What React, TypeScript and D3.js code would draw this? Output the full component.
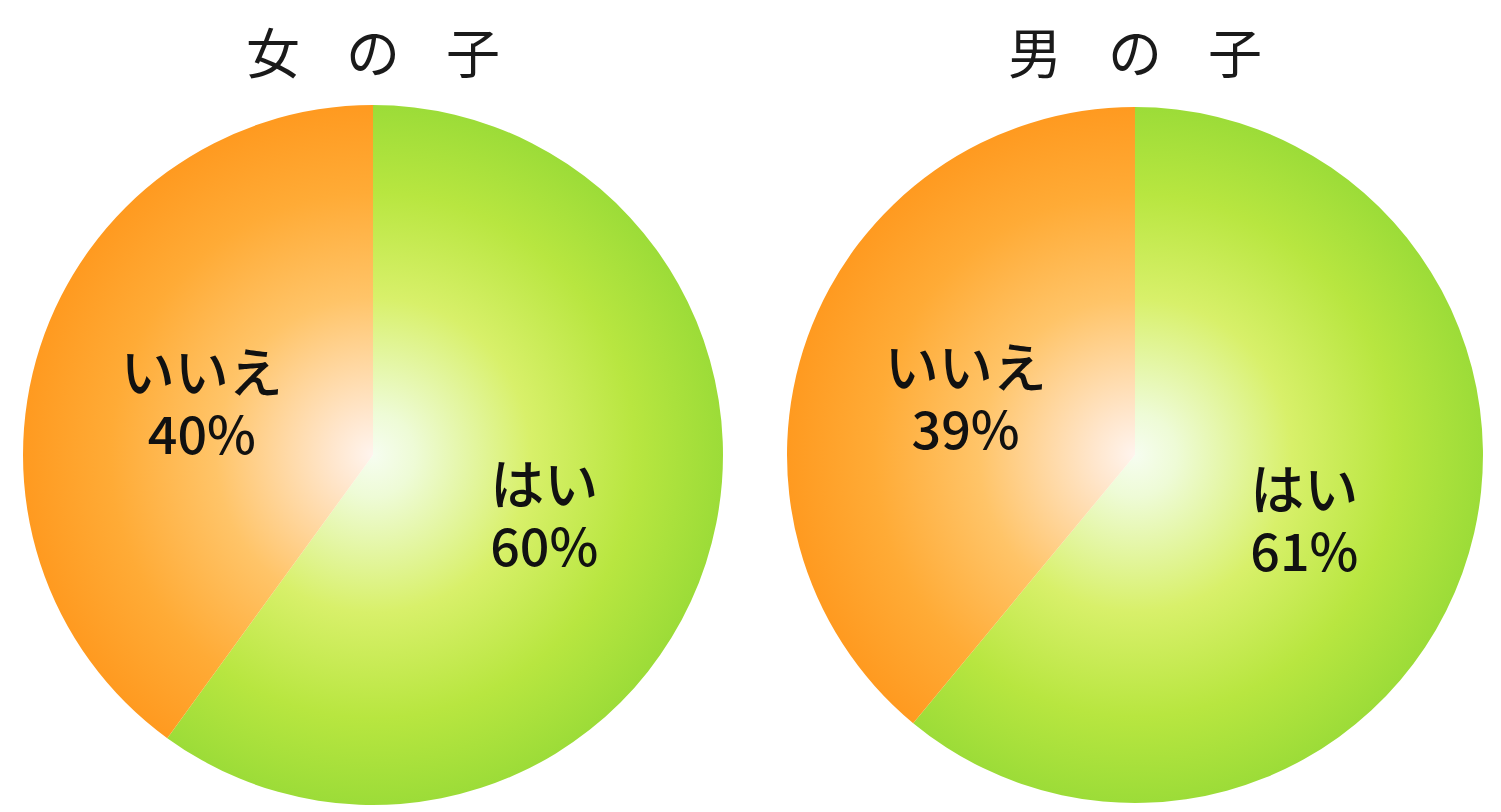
import React from "react";
import * as d3 from "d3";

const categories = ["はい", "いいえ"];
const girlsValues = [60, 40];
const boysValues = [61, 39];
const titles = ["女の子", "男の子"];

const W = 1501;
const H = 812;

const gradients: Record<string, [number, string][]> = {
  "はい": [
    [0, "#f6fdf0"],
    [0.12, "#eefbd6"],
    [0.45, "#d8f06a"],
    [0.75, "#b8e640"],
    [1, "#9cdc38"],
  ],
  "いいえ": [
    [0, "#fff4ee"],
    [0.12, "#ffe6cc"],
    [0.45, "#ffc468"],
    [0.75, "#ffab36"],
    [1, "#ff9a20"],
  ],
};

type Datum = { cat: string; value: number };

function Pie({ id, cx, cy, r, values, title }: { id: string; cx: number; cy: number; r: number; values: number[]; title: string }) {
  const data: Datum[] = categories.map((c, i) => ({ cat: c, value: values[i] }));
  const pie = d3.pie<Datum>().sort(null).value((d) => d.value);
  const arcs = pie(data);
  const arc = d3.arc<d3.PieArcDatum<Datum>>().innerRadius(0).outerRadius(r);
  const labelArc = d3.arc<d3.PieArcDatum<Datum>>().innerRadius(0).outerRadius(360);
  const chars = Array.from(title);
  const charX = d3.scaleLinear().domain([0, chars.length - 1]).range([-100, 100]);
  return (
    <g>
      <defs>
        {categories.map((c, i) => (
          <radialGradient key={c} id={`${id}-g${i}`} gradientUnits="userSpaceOnUse" cx={0} cy={0} r={r}>
            {gradients[c].map(([o, col]) => (
              <stop key={o} offset={o} stopColor={col} />
            ))}
          </radialGradient>
        ))}
      </defs>
      {chars.map((ch, i) => (
        <text
          key={i}
          x={cx + charX(i)}
          y={74}
          textAnchor="middle"
          fontSize={54}
          fontFamily="'Noto Sans CJK JP', sans-serif"
          fontWeight={400}
          fill="#1a1a1a"
        >
          {ch}
        </text>
      ))}
      <g transform={`translate(${cx},${cy})`}>
        {arcs.map((a, i) => (
          <path key={i} d={arc(a) || ""} fill={`url(#${id}-g${i})`} />
        ))}
      </g>
      {arcs.map((a, i) => {
        const [lx, ly] = labelArc.centroid(a);
        return (
          <g key={`l${i}`}>
            <text
              x={cx + lx}
              y={cy + ly - 6}
              textAnchor="middle"
              fontFamily="'Noto Sans CJK JP', sans-serif"
              fontWeight={500}
              fontSize={54}
              fill="#111"
            >
              {a.data.cat}
            </text>
            <text
              x={cx + lx}
              y={cy + ly + 55}
              textAnchor="middle"
              fontFamily="'Noto Sans CJK JP', sans-serif"
              fontWeight={500}
              fontSize={52}
              fill="#111"
            >
              {`${a.data.value}%`}
            </text>
          </g>
        );
      })}
    </g>
  );
}

export default function App() {
  return (
    <svg width={W} height={H} style={{ position: "absolute", left: 0, top: 0, background: "#fff" }}>
      <rect width={W} height={H} fill="#fff" />
      <Pie id="girls" cx={373} cy={455} r={350} values={girlsValues} title={titles[0]} />
      <Pie id="boys" cx={1135} cy={455} r={348} values={boysValues} title={titles[1]} />
    </svg>
  );
}
